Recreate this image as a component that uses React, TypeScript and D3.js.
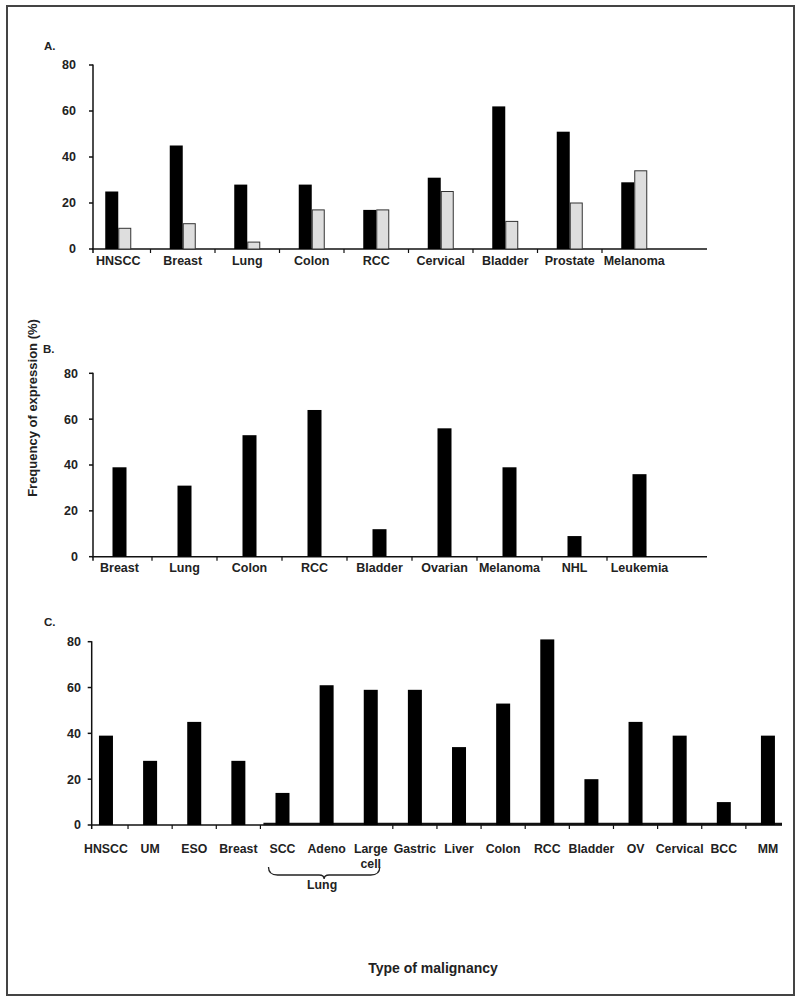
import React from "react";
import * as d3 from "d3";

const A_CATEGORIES = ["HNSCC", "Breast", "Lung", "Colon", "RCC", "Cervical", "Bladder", "Prostate", "Melanoma"];
const A_BLACK = [25, 45, 28, 28, 17, 31, 62, 51, 29];
const A_GRAY = [9, 11, 3, 17, 17, 25, 12, 20, 34];

const B_CATEGORIES = ["Breast", "Lung", "Colon", "RCC", "Bladder", "Ovarian", "Melanoma", "NHL", "Leukemia"];
const B_VALUES = [39, 31, 53, 64, 12, 56, 39, 9, 36];

const C_CATEGORIES = ["HNSCC", "UM", "ESO", "Breast", "SCC", "Adeno", "Large cell", "Gastric", "Liver", "Colon", "RCC", "Bladder", "OV", "Cervical", "BCC", "MM"];
const C_VALUES = [39, 28, 45, 28, 14, 61, 59, 59, 34, 53, 81, 20, 45, 39, 10, 39];
const LUNG_GROUP = ["SCC", "Adeno", "Large cell"];

const Y_TICKS = [0, 20, 40, 60, 80];

const FONT = "'Liberation Sans', Arial, Helvetica, sans-serif";

function YAxis({ y, x0, labelRight }: { y: d3.ScaleLinear<number, number>; x0: number; labelRight: number }) {
  return (
    <g>
      <line x1={x0} x2={x0} y1={y(80) - 0.5} y2={y(0) + 4} stroke="#111" strokeWidth={1.5} />
      {Y_TICKS.map((t) => (
        <g key={t}>
          <line x1={x0 - 4} x2={x0} y1={y(t)} y2={y(t)} stroke="#111" strokeWidth={1.5} />
          <text x={labelRight} y={y(t)} dy="0.35em" textAnchor="end" fontSize={12.5} fontWeight="bold" fill="#222">
            {t}
          </text>
        </g>
      ))}
    </g>
  );
}

export default function App() {
  // Panel A
  const xA = d3.scaleBand<string>().domain(A_CATEGORIES).range([86, 666.5]);
  const yA = d3.scaleLinear().domain([0, 80]).range([249, 65]);
  // Panel B
  const xB = d3.scaleBand<string>().domain(B_CATEGORIES).range([87, 672]);
  const yB = d3.scaleLinear().domain([0, 80]).range([556.7, 373.3]);
  // Panel C
  const xC = d3.scaleBand<string>().domain(C_CATEGORIES.map((c, i) => i + ":" + c)).range([83.9, 790]);
  const keyC = (i: number) => i + ":" + C_CATEGORIES[i];
  const yC = d3.scaleLinear().domain([0, 80]).range([825, 641.7]);

  const pairW = 13;
  const barW = 14;

  const lungStartIdx = C_CATEGORIES.indexOf(LUNG_GROUP[0]);
  const lungEndIdx = C_CATEGORIES.indexOf(LUNG_GROUP[LUNG_GROUP.length - 1]);
  const braceX1 = (xC(keyC(lungStartIdx)) as number) + xC.bandwidth() / 2 - 14;
  const braceX2 = (xC(keyC(lungEndIdx)) as number) + xC.bandwidth() / 2 + 9;
  const braceMid = (braceX1 + braceX2) / 2;
  const bTop = 867;
  const bBot = 875;
  const bracePath = `M${braceX1},${bTop} Q${braceX1},${bBot} ${braceX1 + 9},${bBot} L${braceMid - 5},${bBot} Q${braceMid},${bBot} ${braceMid},${bBot + 4} Q${braceMid},${bBot} ${braceMid + 5},${bBot} L${braceX2 - 9},${bBot} Q${braceX2},${bBot} ${braceX2},${bTop}`;

  return (
    <svg
      width={800}
      height={1004}
      style={{ position: "absolute", left: 0, top: 0, background: "#fff" }}
      fontFamily={FONT}
    >
      <rect x={0} y={0} width={800} height={1004} fill="#fff" />
      <rect x={7} y={6} width={787} height={989} fill="none" stroke="#444" strokeWidth={2} />

      {/* Panel A */}
      <text x={44} y={50} fontSize={11.5} fontWeight="bold" fill="#222">A.</text>
      <YAxis y={yA} x0={93} labelRight={76} />
      <line x1={92} x2={707} y1={yA(0)} y2={yA(0)} stroke="#111" strokeWidth={1.5} />
      {A_CATEGORIES.slice(1).map((c) => (
        <line key={c} x1={xA(c)} x2={xA(c)} y1={yA(0)} y2={yA(0) + 4} stroke="#111" strokeWidth={1.2} />
      ))}
      {A_CATEGORIES.map((c, i) => {
        const cx = (xA(c) as number) + xA.bandwidth() / 2;
        return (
          <g key={c}>
            <rect x={cx - pairW} y={yA(A_BLACK[i])} width={pairW} height={yA(0) - yA(A_BLACK[i])} fill="#000" />
            <rect x={cx + 0.5} y={yA(A_GRAY[i])} width={pairW - 1} height={yA(0) - yA(A_GRAY[i])} fill="#dedede" stroke="#333" strokeWidth={1} />
            <text x={cx} y={264.5} textAnchor="middle" fontSize={12.5} fontWeight="bold" fill="#222">{c}</text>
          </g>
        );
      })}

      {/* Panel B */}
      <text x={43} y={353} fontSize={11.5} fontWeight="bold" fill="#222">B.</text>
      <YAxis y={yB} x0={93} labelRight={78} />
      <line x1={92} x2={707} y1={yB(0)} y2={yB(0)} stroke="#111" strokeWidth={1.5} />
      {B_CATEGORIES.slice(1).map((c) => (
        <line key={c} x1={xB(c)} x2={xB(c)} y1={yB(0)} y2={yB(0) + 4} stroke="#111" strokeWidth={1.2} />
      ))}
      {B_CATEGORIES.map((c, i) => {
        const cx = (xB(c) as number) + xB.bandwidth() / 2;
        return (
          <g key={c}>
            <rect x={cx - barW / 2} y={yB(B_VALUES[i])} width={barW} height={yB(0) - yB(B_VALUES[i])} fill="#000" />
            <text x={cx} y={572} textAnchor="middle" fontSize={12.5} fontWeight="bold" fill="#222">{c}</text>
          </g>
        );
      })}

      {/* Y axis title */}
      <text
        transform={`translate(37,408) rotate(-90)`}
        textAnchor="middle"
        fontSize={13}
        fontWeight="bold"
        fill="#222"
      >
        Frequency of expression (%)
      </text>

      {/* Panel C */}
      <text x={44} y={626} fontSize={11.5} fontWeight="bold" fill="#222">C.</text>
      <YAxis y={yC} x0={91.7} labelRight={81} />
      <line x1={91} x2={782} y1={yC(0)} y2={yC(0)} stroke="#111" strokeWidth={1.5} />
      <line x1={(xC(keyC(lungStartIdx)) as number) + 3} x2={782} y1={yC(0) - 1} y2={yC(0) - 1} stroke="#111" strokeWidth={2.5} />
      {C_CATEGORIES.map((c, i) => {
        if (i === 0) return null;
        const inLung = LUNG_GROUP.includes(c) && LUNG_GROUP.includes(C_CATEGORIES[i - 1]);
        if (inLung) return null;
        const bx = xC(keyC(i)) as number;
        return <line key={"t" + i} x1={bx} x2={bx} y1={yC(0)} y2={yC(0) + 4} stroke="#111" strokeWidth={1.2} />;
      })}
      {C_CATEGORIES.map((c, i) => {
        const cx = (xC(keyC(i)) as number) + xC.bandwidth() / 2;
        const words = c.split(" ");
        return (
          <g key={"c" + i}>
            <rect x={cx - barW / 2} y={yC(C_VALUES[i])} width={barW} height={yC(0) - yC(C_VALUES[i])} fill="#000" />
            <text x={cx} y={853} textAnchor="middle" fontSize={12.3} fontWeight="bold" fill="#222">
              {words.map((w, j) => (
                <tspan key={j} x={cx} dy={j === 0 ? 0 : 15}>{w}</tspan>
              ))}
            </text>
          </g>
        );
      })}
      <path d={bracePath} fill="none" stroke="#222" strokeWidth={1.3} />
      <text x={braceMid - 2} y={889} textAnchor="middle" fontSize={12.3} fontWeight="bold" fill="#222">Lung</text>

      {/* X axis title */}
      <text x={433} y={973} textAnchor="middle" fontSize={14} fontWeight="bold" fill="#222">
        Type of malignancy
      </text>
    </svg>
  );
}
